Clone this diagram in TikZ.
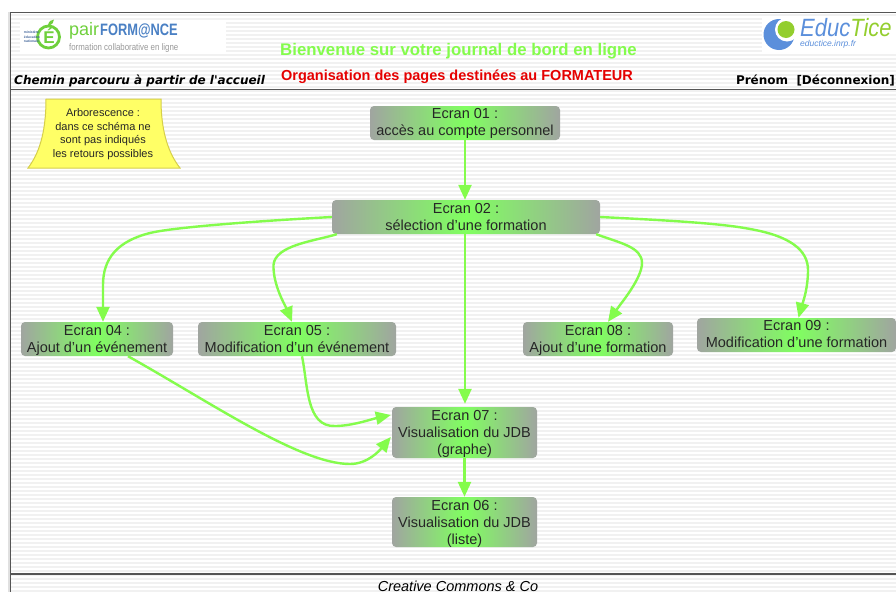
\documentclass[tikz,border=0pt]{standalone}
\usepackage{fontspec}
\setmainfont{Liberation Sans}
\newfontfamily\dejavu{DejaVu Sans}
\usetikzlibrary{arrows.meta}
\definecolor{lime}{HTML}{84FC4C}
\definecolor{boxgray}{HTML}{A0A5A0}
\definecolor{boxgreen}{HTML}{80FF60}
\definecolor{framec}{HTML}{555555}
\definecolor{stripe}{HTML}{F1F1F1}
\definecolor{blueE}{HTML}{5B8FDB}
\definecolor{blueF}{HTML}{4A80C4}
\definecolor{greenE}{HTML}{93CE2E}
\definecolor{logoG}{HTML}{6FD03C}
\definecolor{noteY}{HTML}{FFFF66}
\definecolor{noteB}{HTML}{D6CF4A}
\newcommand{\tallA}{\rule{0pt}{15.9pt}}
\newcommand{\tallB}{\rule{0pt}{13.9pt}}
\tikzset{
  screen/.style={rounded corners=4pt,left color=boxgray,right color=boxgray,middle color=boxgreen,
    align=center,inner xsep=0pt,inner ysep=-2pt,font=\fontsize{14.5}{17}\selectfont,text=black!85},
  link/.style={draw=lime,line width=2.4pt,-{Triangle[length=15pt,width=13pt]}},
  frameline/.style={draw=framec,line width=1.3pt}
}
\begin{document}
\begin{tikzpicture}[x=1pt,y=-1pt]
\useasboundingbox (0,0) rectangle (896,592);
\fill[white] (0,0) rectangle (896,592);
\fill[black!12] (8,12) rectangle (11,592);
\fill[white] (11,13) rectangle (896,592);
\foreach \y in {14,18,...,590} \fill[stripe] (11,\y) rectangle (896,\y+2);
% logo boxes
\fill[white] (20,20) rectangle (226,54);
\fill[white] (762,17) rectangle (896,52);
% pairformance logo
\draw[logoG,line width=2.8pt] (48.5,37) circle (11);
\fill[logoG] (48,25) .. controls (49,21) and (51,20) .. (54,19.5) .. controls (54,22) and (52,25) .. (49,26) -- cycle;
\node[inner sep=0pt,text=logoG,font=\bfseries\fontsize{17}{17}\selectfont] (lgE) at (49,36) {É};
\node[inner sep=0pt,align=left,text=blueE!70!black,font=\bfseries\fontsize{3.4}{4.4}\selectfont] (lgM) at (32,37) {ministère\\éducation\\nationale};
\node[inner sep=0pt,anchor=base west,text=logoG,font=\fontsize{18}{18}\selectfont] (lgP) at (69,35) {pair};
\node[inner sep=0pt,anchor=base west,xscale=.78,transform shape,text=blueF,font=\bfseries\fontsize{16.5}{17}\selectfont] (lgQ) at (100,35) {FORM@NCE};
\node[inner sep=0pt,anchor=base west,xscale=.83,transform shape,text=black!40,font=\fontsize{9.5}{10}\selectfont] (lgF) at (69,50) {formation collaborative en ligne};
% eductice logo
\fill[blueE] (779,34.5) circle (15.5);
\fill[white] (787,29.5) circle (12);
\fill[greenE] (786,29.5) circle (8.5);
\node[inner sep=0pt,anchor=base west,xscale=.88,transform shape,font=\itshape\fontsize{25}{25}\selectfont] (lgT) at (800,36) {\textcolor{blueE}{Educ}\textcolor{greenE}{Tice}};
\node[inner sep=0pt,anchor=base west,text=blueE,font=\itshape\fontsize{8.5}{8.5}\selectfont] (lgU) at (800,46) {eductice.inrp.fr};
% header
\node[inner sep=0pt,text=lime,font=\bfseries\fontsize{16.8}{17}\selectfont] (title) at (458.5,51) {Bienvenue sur votre journal de bord en ligne};
\node[inner sep=0pt,text=red!90!black,font=\bfseries\fontsize{14.5}{15}\selectfont] (org) at (457,76.5) {Organisation des pages destinées au FORMATEUR};
\node[inner sep=0pt,anchor=base west,font=\dejavu\bfseries\itshape\fontsize{12}{13}\selectfont] (path) at (14,84) {Chemin parcouru à partir de l'accueil};
\node[inner sep=0pt,anchor=base east,font=\dejavu\bfseries\fontsize{12}{13}\selectfont] (user) at (895,84) {Prénom\ \ [Déconnexion]};
\node[inner sep=0pt,font=\itshape\fontsize{14.5}{15}\selectfont] (cc) at (458,586) {Creative Commons \& Co};
% frame
\draw[frameline] (896,12.5) -- (10.5,12.5) -- (10.5,592);
\draw[frameline] (10.5,89.5) -- (896,89.5);
\draw[frameline] (10.5,574) -- (896,574);
% note
\draw[draw=noteB,line width=1pt,fill=noteY]
  (46,99) -- (161,99) .. controls (161,135) and (170,155) .. (180,168) -- (28,168) .. controls (38,155) and (46,135) .. (46,99) -- cycle;
\node[inner sep=0pt,align=center,text=black!85,font=\fontsize{11}{13.5}\selectfont] (note) at (103,134) {Arborescence :\\dans ce schéma ne\\sont pas indiqués\\les retours possibles};
% screens
\node[screen,inner ysep=-1pt,minimum width=190pt,minimum height=34pt] (e01) at (465,123) {\tallB Ecran 01 :\\\strut accès au compte personnel};
\node[screen,minimum width=268pt,minimum height=34pt] (e02) at (466,217) {\tallA Ecran 02 :\\\strut sélection d'une formation};
\node[screen,minimum width=152pt,minimum height=34pt] (e04) at (97,339) {\tallA Ecran 04 :\\\strut Ajout d'un événement};
\node[screen,minimum width=198pt,minimum height=34pt] (e05) at (297,339) {\tallA Ecran 05 :\\\strut Modification d'un événement};
\node[screen,minimum width=150pt,minimum height=34pt] (e08) at (598,339) {\tallA Ecran 08 :\\\strut Ajout d'une formation};
\node[screen,inner ysep=-1pt,minimum width=199pt,minimum height=34pt] (e09) at (796.5,335) {\tallB Ecran 09 :\\\strut Modification d'une formation};
\node[screen,minimum width=145pt,minimum height=51pt] (e07) at (464.5,432.5) {\tallA Ecran 07 :\\\strut Visualisation du JDB\\\strut (graphe)};
\node[screen,inner ysep=-2.5pt,minimum width=145pt,minimum height=50pt] (e06) at (464.5,522) {\tallA Ecran 06 :\\\strut Visualisation du JDB\\\strut (liste)};
% links
\draw[link] (e01.south) -- (e02.north -| e01.south);
\draw[link] (e02.west) .. controls (240,222) and (170,228) .. (150,233) .. controls (118,241) and (103,258) .. (103,285) .. controls (103,300) and (103,310) .. ([xshift=6pt]e04.north);
\draw[link] ([xshift=5pt]e02.south west) .. controls (315,241) and (275,245) .. (273.5,265) .. controls (273,285) and (285,305) .. ([xshift=-5pt]e05.north);
\draw[link] (e02.south -| e01.south) -- ([yshift=3pt]e07.north -| e01.south);
\draw[link] ([xshift=-4pt]e02.south east) .. controls (620,243) and (642,247) .. (642,263) .. controls (642,278) and (622,302) .. ([xshift=10pt]e08.north);
\draw[link] (e02.east) .. controls (660,220) and (720,223) .. (750,229) .. controls (790,236) and (808,250) .. (808,270) .. controls (808,290) and (802,305) .. ([xshift=2pt]e09.north);
\draw[link] ([xshift=31pt]e04.south) .. controls (210,402) and (300,464) .. (350,464) .. controls (368,464) and (380,450) .. ([xshift=-1pt,yshift=-4.5pt]e07.west);
\draw[link] ([xshift=5pt]e05.south) .. controls (308,385) and (306,427) .. (335,426) .. controls (352,426) and (372,419) .. ([xshift=-1pt,yshift=17.5pt]e07.west);
\draw[link] (e07.south) -- (e06.north);
\end{tikzpicture}
\end{document}
